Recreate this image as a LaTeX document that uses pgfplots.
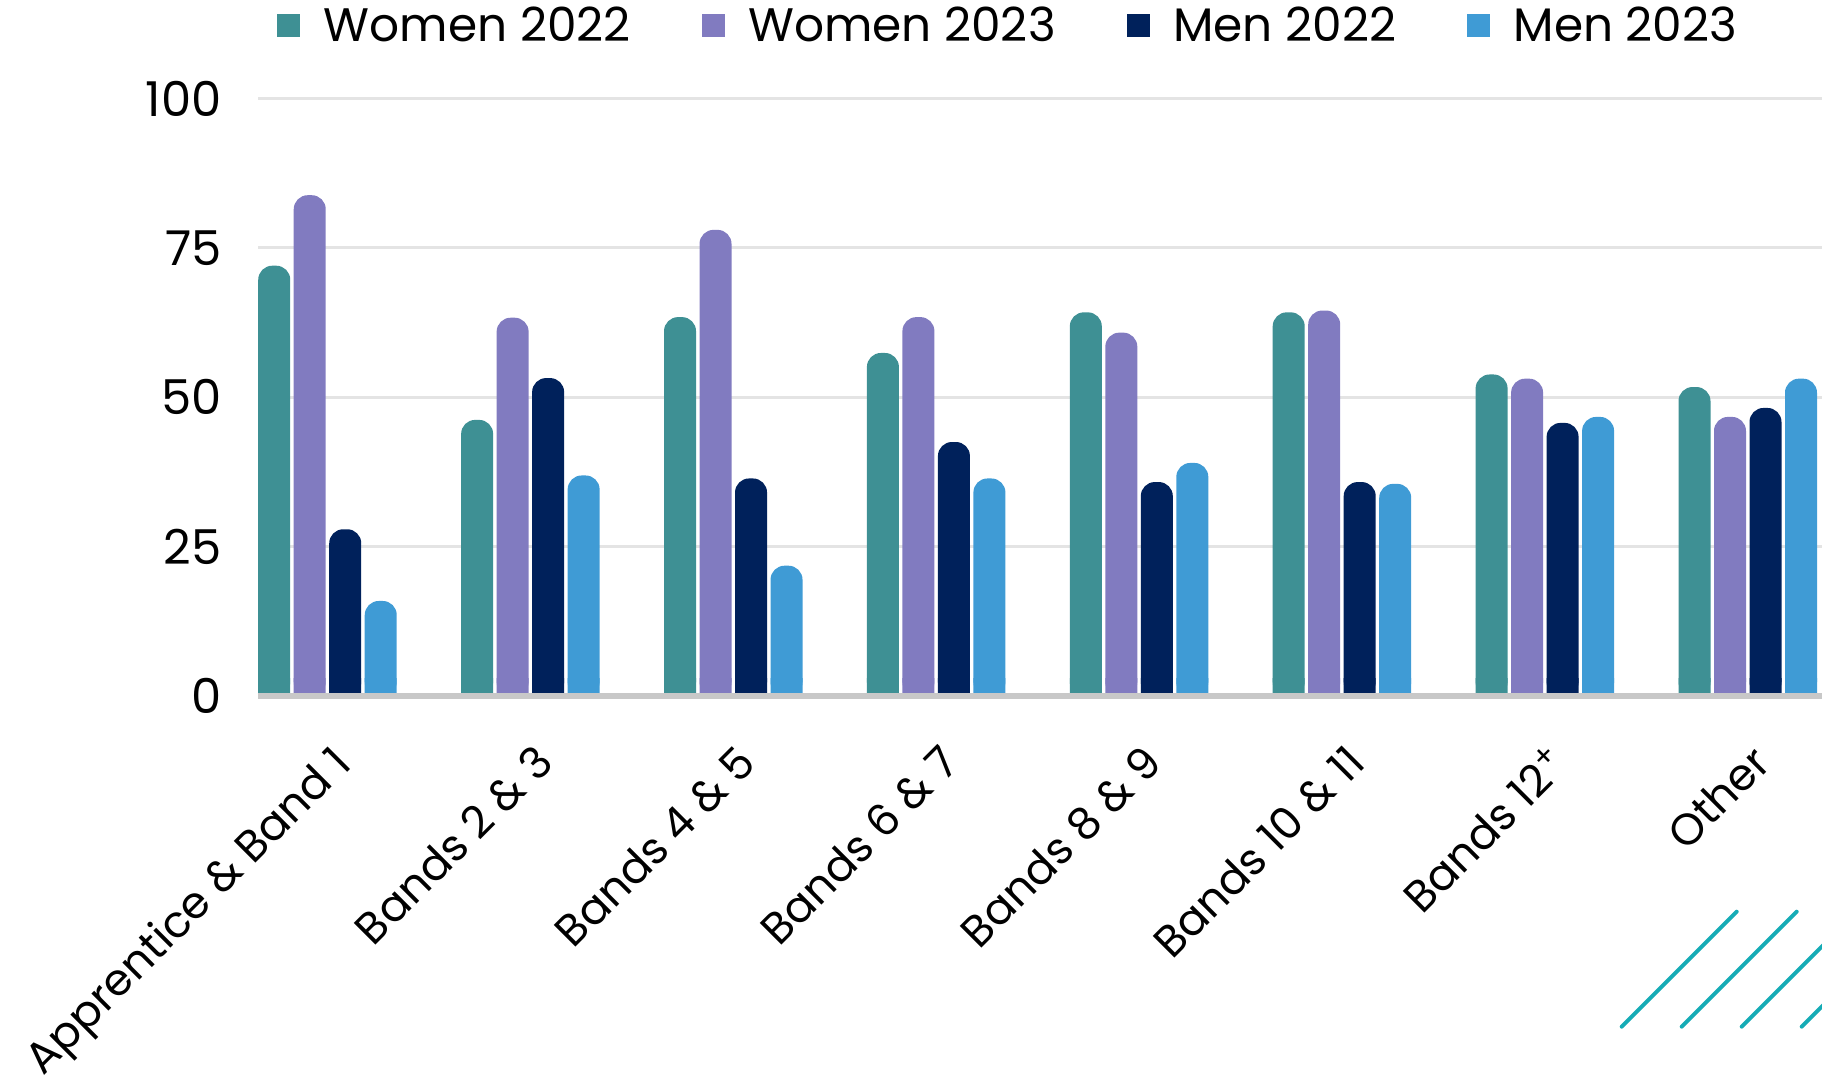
\documentclass[border=0pt]{standalone}
\usepackage{pgfplots}
\pgfplotsset{compat=1.18}
\usepackage{pgfplotstable}
\usepackage{fontspec}
\setmainfont{Poppins}
\definecolor{cWa}{RGB}{62,144,148}
\definecolor{cWb}{RGB}{129,123,192}
\definecolor{cMa}{RGB}{0,33,91}
\definecolor{cMb}{RGB}{63,155,213}
\definecolor{gridgray}{RGB}{228,228,228}
\definecolor{basegray}{RGB}{200,200,200}
\definecolor{decocol}{RGB}{22,172,182}

\pgfplotstableread{
x w22 w23 m22 m23
0 72.0 83.8 27.9 15.9
1 46.2 63.3 53.2 36.9
2 63.4 78.0 36.4 21.8
3 57.4 63.4 42.5 36.4
4 64.2 60.8 35.8 39.0
5 64.2 64.5 35.8 35.5
6 53.8 53.1 45.7 46.7
7 51.7 46.7 48.2 53.1
}\datatable

\pgfplotsset{
  mybar/.style={ybar, bar width=16pt, draw=none, fill=#1,
    legend image code/.code={\fill[fill=#1, draw=none, sharp corners] (0pt,-5.75pt) rectangle (11.5pt,5.75pt);}},
}

\begin{document}
\begin{tikzpicture}
\useasboundingbox (0,0) rectangle (911pt,543pt);
\clip (0,0) rectangle (911pt,543pt);
\begin{axis}[
  at={(129pt,195pt)}, anchor=south west,
  scale only axis, width=782pt, height=298.8pt,
  xmin=-0.3425, xmax=7.366, ymin=0, ymax=100,
  clip=false,
  ytick={0,25,50,75,100},
  xtick={0,1,2,3,4,5,6,7},
  xticklabels={Apprentice \& Band 1, Bands 2 \& 3, Bands 4 \& 5, Bands 6 \& 7, Bands 8 \& 9, Bands 10 \& 11, Bands 12\textsuperscript{+}, Other},
  axis line style={draw=none},
  tick style={draw=none},
  ymajorgrids, major grid style={color=gridgray, line width=1.5pt},
  yticklabel style={font=\fontsize{24}{28}\selectfont},
  /pgf/number format/assume math mode=true,
  yticklabel style={inner sep=0pt, xshift=-18pt},
  xticklabel style={font=\fontsize{22}{26}\selectfont, inner sep=0pt, xshift=1pt, yshift=-23pt, rotate=45, anchor=north east},
  legend columns=4,
  legend cell align=left,
  legend style={at={(0.01215,1.1212)}, anchor=west, draw=none, fill=none,
    inner sep=0pt, column sep=0pt, nodes={inner sep=0pt},
    font=\fontsize{23.5}{28}\selectfont,
    /tikz/every odd column/.append style={column sep=11.8pt},
    /tikz/every even column/.append style={column sep=35.5pt}},
]
% square lower parts (hide rounding at the base)
\addplot[mybar=cWa, bar shift=-26.625pt, forget plot, y filter/.expression={min(y,3)}] table[x=x,y=w22]{\datatable};
\addplot[mybar=cWb, bar shift=-8.875pt, forget plot, y filter/.expression={min(y,3)}] table[x=x,y=w23]{\datatable};
\addplot[mybar=cMa, bar shift=8.875pt, forget plot, y filter/.expression={min(y,3)}] table[x=x,y=m22]{\datatable};
\addplot[mybar=cMb, bar shift=26.625pt, forget plot, y filter/.expression={min(y,3)}] table[x=x,y=m23]{\datatable};
% full bars with rounded tops
\addplot[mybar=cWa, bar shift=-26.625pt, rounded corners=7pt] table[x=x,y=w22]{\datatable};
\addlegendentry{Women 2022}
\addplot[mybar=cWb, bar shift=-8.875pt, rounded corners=7pt] table[x=x,y=w23]{\datatable};
\addlegendentry{Women 2023}
\addplot[mybar=cMa, bar shift=8.875pt, rounded corners=7pt] table[x=x,y=m22]{\datatable};
\addlegendentry{Men 2022}
\addplot[mybar=cMb, bar shift=26.625pt, rounded corners=7pt] table[x=x,y=m23]{\datatable};
\addlegendentry{Men 2023}
\draw[basegray, line width=3pt] (rel axis cs:0,0) -- (rel axis cs:1,0);
\end{axis}
\begin{scope}[decocol, line width=2pt, line cap=round]
\draw (810.85pt,29.65pt) -- ++(57.5pt,57.5pt);
\draw (840.85pt,29.65pt) -- ++(57.5pt,57.5pt);
\draw (870.85pt,29.65pt) -- ++(57.5pt,57.5pt);
\draw (900.85pt,29.65pt) -- ++(57.5pt,57.5pt);
\end{scope}
\end{tikzpicture}
\end{document}
